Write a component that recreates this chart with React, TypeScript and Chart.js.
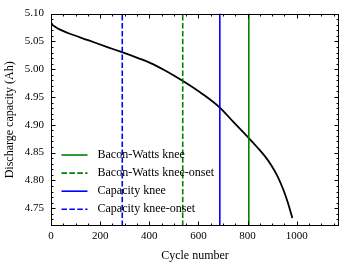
import React, { useEffect, useRef } from "react";
import { Chart, registerables } from "chart.js";

Chart.register(...registerables);

// ---- data ----
const cycles = [0, 5, 15, 37, 69, 151, 232, 292, 354, 403, 468, 537, 619, 688, 742, 806, 840, 871, 895, 920, 944, 965, 982];
const capacity = [5.0853, 5.0805, 5.077, 5.0711, 5.0651, 5.0522, 5.0394, 5.0301, 5.02, 5.0115, 4.9968, 4.9787, 4.9546, 4.9306, 4.9052, 4.8757, 4.8592, 4.8432, 4.8283, 4.8092, 4.785, 4.7585, 4.7326];

const kneeLabels = ["Bacon-Watts knee", "Bacon-Watts knee-onset", "Capacity knee", "Capacity knee-onset"];
const kneeCycles = [805, 536, 687, 290];

const xLimits = [0, 1172];
const yLimits = [4.718, 5.1];
const xTickValues = [0, 200, 400, 600, 800, 1000];
const yTickValues = [4.75, 4.8, 4.85, 4.9, 4.95, 5.0, 5.05, 5.1];
const xMinorStep = 50;
const yMinorStep = 0.01;

const xTitle = "Cycle number";
const yTitle = "Discharge capacity (Ah)";

const FONT = "'Liberation Serif', 'Times New Roman', serif";

const kneeStyles = [
  { color: "#008000", dash: [] as number[] },
  { color: "#008000", dash: [5.5, 2.4] },
  { color: "#0000ff", dash: [] as number[] },
  { color: "#0000ff", dash: [5.5, 2.4] },
];

const framePlugin = {
  id: "frameTicks",
  afterDatasetsDraw(chart: any) {
    const { ctx, chartArea: a, scales } = chart;
    const xs = scales.x;
    const ys = scales.y;
    ctx.save();
    ctx.strokeStyle = "#000";
    ctx.lineWidth = 1;
    ctx.setLineDash([]);
    const L = Math.round(a.left) + 0.5;
    const R = Math.round(a.right) - 0.5;
    const T = Math.round(a.top) + 0.5;
    const B = Math.round(a.bottom) - 0.5;
    ctx.strokeRect(L, T, R - L, B - T);
    const seg = (x1: number, y1: number, x2: number, y2: number) => {
      ctx.beginPath();
      ctx.moveTo(x1, y1);
      ctx.lineTo(x2, y2);
      ctx.stroke();
    };
    const majorLen = 4;
    const minorLen = 2;
    const kx0 = Math.ceil(xLimits[0] / xMinorStep - 1e-9);
    const kx1 = Math.floor(xLimits[1] / xMinorStep + 1e-9);
    for (let k = kx0; k <= kx1; k++) {
      const v = k * xMinorStep;
      const major = xTickValues.some((t) => Math.abs(t - v) < 1e-6);
      const len = major ? majorLen : minorLen;
      const px = Math.round(xs.getPixelForValue(v)) + 0.5;
      seg(px, B, px, B - len);
      seg(px, T, px, T + len);
    }
    const ky0 = Math.ceil(yLimits[0] / yMinorStep - 1e-9);
    const ky1 = Math.floor(yLimits[1] / yMinorStep + 1e-9);
    for (let k = ky0; k <= ky1; k++) {
      const v = k * yMinorStep;
      const major = yTickValues.some((t) => Math.abs(t - v) < 1e-6);
      const len = major ? majorLen : minorLen;
      const py = Math.round(ys.getPixelForValue(v)) + 0.5;
      seg(L, py, L + len, py);
      seg(R, py, R - len, py);
    }
    ctx.restore();
  },
};

const legendPlugin = {
  id: "insideLegend",
  afterDraw(chart: any) {
    const { ctx, chartArea: a } = chart;
    ctx.save();
    const rowH = 18.1;
    const x0 = a.left + 10.5;
    const x1 = a.left + 36.5;
    const tx = a.left + 46.5;
    const yLast = a.bottom - 16.7;
    const n = kneeLabels.length;
    ctx.font = `12px ${FONT}`;
    ctx.textBaseline = "middle";
    ctx.textAlign = "left";
    kneeLabels.forEach((label, i) => {
      const y = yLast - (n - 1 - i) * rowH;
      ctx.strokeStyle = kneeStyles[i].color;
      ctx.lineWidth = 1.6;
      ctx.setLineDash(kneeStyles[i].dash);
      ctx.beginPath();
      ctx.moveTo(x0, y);
      ctx.lineTo(x1, y);
      ctx.stroke();
      ctx.setLineDash([]);
      ctx.fillStyle = "#000";
      ctx.fillText(label, tx, y);
    });
    ctx.restore();
  },
};

export default function App() {
  const ref = useRef<HTMLCanvasElement>(null);

  useEffect(() => {
    document.body.style.margin = "0";
    const canvas = ref.current;
    if (!canvas) return;

    const curve = {
      label: "capacity",
      data: cycles.map((c, i) => ({ x: c, y: capacity[i] })),
      borderColor: "#000",
      borderWidth: 1.8,
      pointRadius: 0,
      cubicInterpolationMode: "monotone" as const,
      fill: false,
    };

    const kneeSets = kneeLabels.map((label, i) => ({
      label,
      data: [
        { x: kneeCycles[i], y: yLimits[0] },
        { x: kneeCycles[i], y: yLimits[1] },
      ],
      borderColor: kneeStyles[i].color,
      borderDash: kneeStyles[i].dash,
      borderWidth: 1.6,
      pointRadius: 0,
      tension: 0,
      fill: false,
    }));

    const chart = new Chart(canvas, {
      type: "line",
      data: { datasets: [...kneeSets, curve] as any },
      options: {
        animation: false,
        responsive: false,
        devicePixelRatio: 1,
        layout: { padding: { left: 0, top: 10, right: 7, bottom: 0 } },
        plugins: {
          legend: { display: false },
          tooltip: { enabled: false },
        },
        scales: {
          x: {
            type: "linear",
            min: xLimits[0],
            max: xLimits[1],
            afterBuildTicks: (s: any) => {
              s.ticks = xTickValues.map((v) => ({ value: v }));
            },
            afterFit: (s: any) => {
              s.height = 41;
            },
            grid: { display: false, drawTicks: false, tickLength: 0 },
            border: { display: false },
            ticks: {
              color: "#000",
              font: { family: FONT, size: 11 },
              padding: 4,
              maxRotation: 0,
              autoSkip: false,
              callback: (v: any) => String(v),
            },
            title: {
              display: true,
              text: xTitle,
              color: "#000",
              font: { family: FONT, size: 12 },
              padding: { top: 0, bottom: 4.3 },
            },
          },
          y: {
            type: "linear",
            min: yLimits[0],
            max: yLimits[1],
            afterBuildTicks: (s: any) => {
              s.ticks = yTickValues.map((v) => ({ value: v }));
            },
            afterFit: (s: any) => {
              s.width = 51;
            },
            grid: { display: false, drawTicks: false, tickLength: 0 },
            border: { display: false },
            ticks: {
              color: "#000",
              font: { family: FONT, size: 11 },
              padding: 7,
              autoSkip: false,
              callback: (v: any) => Number(v).toFixed(2),
            },
            title: {
              display: true,
              text: yTitle,
              color: "#000",
              font: { family: FONT, size: 12 },
              padding: { top: 2.8, bottom: 0 },
            },
          },
        },
      },
      plugins: [framePlugin, legendPlugin],
    });

    return () => chart.destroy();
  }, []);

  return (
    <div style={{ width: 346, height: 267 }}>
      <canvas ref={ref} width={346} height={267} style={{ display: "block" }} />
    </div>
  );
}
